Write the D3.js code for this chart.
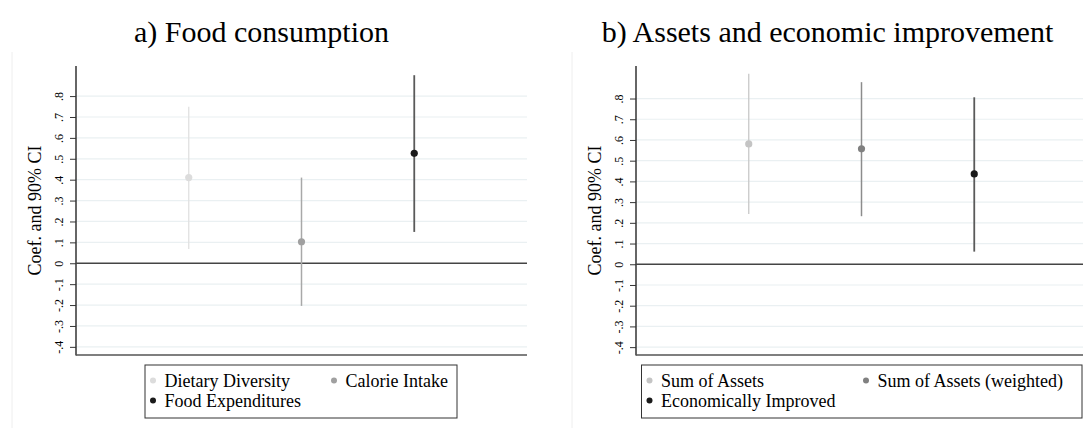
<!DOCTYPE html>
<html><head><meta charset="utf-8">
<script src="https://cdn.jsdelivr.net/npm/d3@7"></script>
<style>body{margin:0;background:#fff;} svg{display:block;font-family:"Liberation Serif","Times New Roman",serif;} svg text{font-family:"Liberation Serif","Times New Roman",serif !important;}</style>
</head><body>
<svg id="c" width="1083" height="428"></svg>
<script>
// ---- data ----
const titleA = "a) Food consumption";
const titleB = "b) Assets and economic improvement";
const seriesA = ["Dietary Diversity", "Calorie Intake", "Food Expenditures"];
const coefA = [0.41, 0.103, 0.526];
const lowA = [0.068, -0.204, 0.15];
const highA = [0.749, 0.41, 0.90];
const seriesB = ["Sum of Assets", "Sum of Assets (weighted)", "Economically Improved"];
const coefB = [0.581, 0.557, 0.436];
const lowB = [0.243, 0.232, 0.061];
const highB = [0.92, 0.879, 0.806];
const yTicks = [-0.4, -0.3, -0.2, -0.1, 0, 0.1, 0.2, 0.3, 0.4, 0.5, 0.6, 0.7, 0.8];
const yTickLabels = ["-.4", "-.3", "-.2", "-.1", "0", ".1", ".2", ".3", ".4", ".5", ".6", ".7", ".8"];
const yTitle = "Coef. and 90% CI";

const svg = d3.select("#c");

function panel(cfg) {
  const g = svg.append("g");
  g.append("line").attr("x1", cfg.frameX).attr("x2", cfg.frameX).attr("y1", 52).attr("y2", 428)
    .attr("stroke", "#eeeeee").attr("stroke-width", 1);
  g.append("text").attr("x", cfg.titleX).attr("y", 41.5).attr("text-anchor", "middle")
    .attr("font-size", 30).attr("fill", "#000").text(cfg.title);

  const x = d3.scaleLinear().domain([0, 4]).range([cfg.left, cfg.left + 451]);
  const y = d3.scaleLinear().domain(cfg.yDomain).range([355, 66]);

  g.append("g").selectAll("line").data(yTicks.filter(d => d !== 0)).join("line")
    .attr("x1", cfg.left).attr("x2", cfg.left + 451)
    .attr("y1", d => y(d)).attr("y2", d => y(d))
    .attr("stroke", "#eaf0f2").attr("stroke-width", 1.2);

  const ax = d3.axisLeft(y).tickValues(yTicks).tickFormat((d, i) => yTickLabels[i]).tickSize(6).tickSizeOuter(0);
  const axg = g.append("g").attr("transform", `translate(${cfg.left},0)`).call(ax)
    .attr("font-family", null);
  axg.select(".domain").remove();
  axg.selectAll(".tick line").attr("stroke", "#333").attr("stroke-width", 1);
  axg.selectAll(".tick text").attr("font-size", 12).attr("fill", "#000")
    .attr("text-anchor", "middle").attr("dy", null)
    .attr("transform", "translate(-17,0) rotate(-90)").attr("x", 0).attr("y", 0)
    .attr("dominant-baseline", "central");
  g.append("line").attr("x1", cfg.left).attr("x2", cfg.left).attr("y1", 66).attr("y2", 355.5)
    .attr("stroke", "#333").attr("stroke-width", 1.5);
  g.append("line").attr("x1", cfg.left).attr("x2", cfg.left + 451).attr("y1", 355).attr("y2", 355)
    .attr("stroke", "#555").attr("stroke-width", 1.5);
  g.append("line").attr("x1", cfg.left).attr("x2", cfg.left + 451).attr("y1", y(0)).attr("y2", y(0))
    .attr("stroke", "#444").attr("stroke-width", 1.5);

  g.append("text").attr("transform", `translate(${cfg.left - 41},${(66 + 355) / 2}) rotate(-90)`)
    .attr("text-anchor", "middle").attr("dominant-baseline", "central").attr("font-size", 18).text(yTitle);

  cfg.series.forEach((s, i) => {
    g.append("line").attr("x1", x(i + 1)).attr("x2", x(i + 1)).attr("y1", y(cfg.low[i])).attr("y2", y(cfg.high[i]))
      .attr("stroke", cfg.lineColors[i]).attr("stroke-width", cfg.lineWidths[i]);
    g.append("circle").attr("cx", x(i + 1)).attr("cy", y(cfg.coef[i])).attr("r", 3.6).attr("fill", cfg.colors[i]);
  });

  const lg = g.append("g");
  lg.append("rect").attr("x", cfg.legX).attr("y", 365).attr("width", cfg.legW).attr("height", 53)
    .attr("fill", "#fff").attr("stroke", "#333").attr("stroke-width", 1);
  const pos = [[0, 0], [cfg.col2, 0], [0, 20]];
  cfg.series.forEach((s, i) => {
    const px = cfg.legX + 8 + pos[i][0], py = 380.5 + pos[i][1];
    lg.append("circle").attr("cx", px).attr("cy", py).attr("r", 3).attr("fill", cfg.colors[i]);
    lg.append("text").attr("x", px + 11.5).attr("y", py + 6.3).attr("font-size", 18).attr("fill", "#000").text(s);
  });
}

panel({
  frameX: 12, title: titleA, titleX: 261.5, left: 76, yDomain: [-0.439, 0.944],
  series: seriesA, coef: coefA, low: lowA, high: highA,
  colors: ["#dcdcdc", "#a0a0a0", "#1a1a1a"], lineColors: ["#e0e0e0", "#a8a8a8", "#5a5a5a"], lineWidths: [1.3, 1.5, 1.8],
  legX: 145, legW: 312, col2: 181
});
panel({
  frameX: 572, title: titleB, titleX: 827.5, left: 636, yDomain: [-0.438, 0.957],
  series: seriesB, coef: coefB, low: lowB, high: highB,
  colors: ["#c4c4c4", "#808080", "#1a1a1a"], lineColors: ["#c8c8c8", "#8c8c8c", "#5a5a5a"], lineWidths: [1.3, 1.5, 1.8],
  legX: 641.5, legW: 440.5, col2: 216.5
});
</script>
</body></html>
